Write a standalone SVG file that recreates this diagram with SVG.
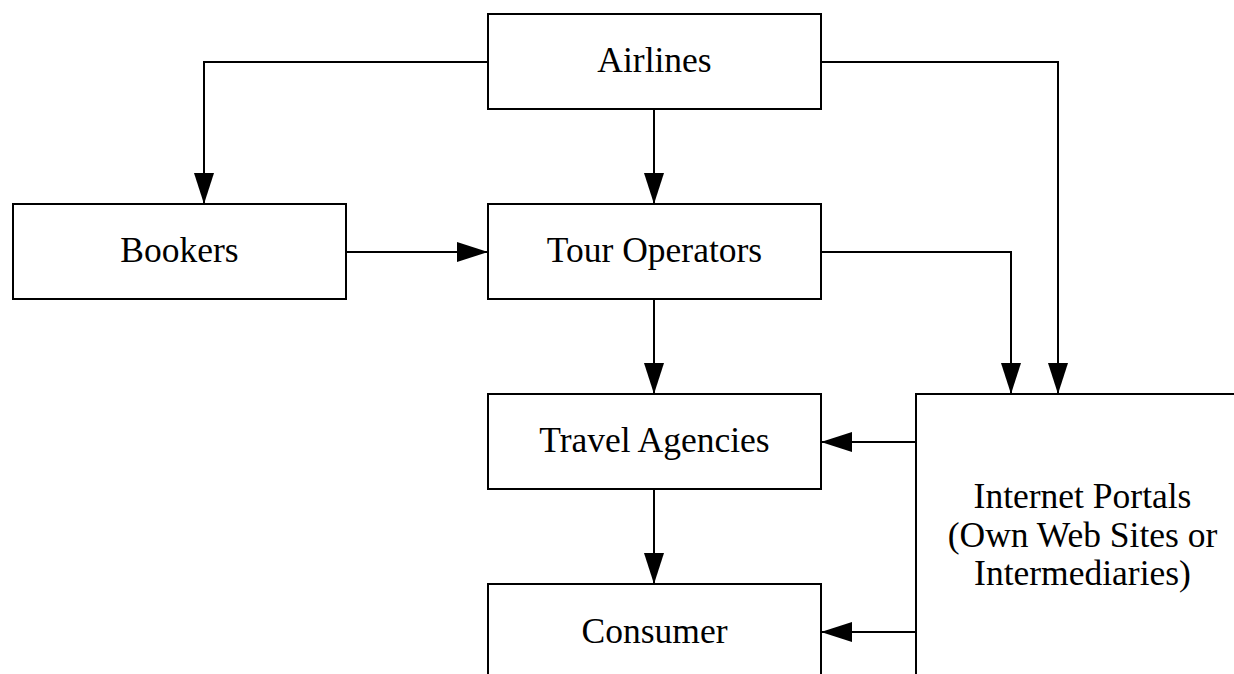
<svg xmlns="http://www.w3.org/2000/svg" width="1234" height="674" viewBox="0 0 1234 674">
  <style>
    .box { fill: #ffffff; stroke: #000000; stroke-width: 2; }
    .lbl { font-family: "Liberation Serif", "Times New Roman", serif; font-size: 35.5px; fill: #000000; text-anchor: middle; }
    .edge { fill: none; stroke: #000000; stroke-width: 2; marker-end: url(#arrow); }
  </style>
  <defs>
    <marker id="arrow" markerUnits="userSpaceOnUse" markerWidth="31" markerHeight="20" refX="31" refY="10" orient="auto">
      <path d="M0,0 L31,10 L0,20 Z" fill="#000000"/>
    </marker>
  </defs>
  <rect width="1234" height="674" fill="#ffffff"/>

  <g id="airlines">
    <rect class="box" x="488" y="14" width="333" height="95"/>
    <text class="lbl" x="654.5" y="72">Airlines</text>
  </g>
  <g id="bookers">
    <rect class="box" x="13" y="204" width="333" height="95"/>
    <text class="lbl" x="179.5" y="262">Bookers</text>
  </g>
  <g id="tour-operators">
    <rect class="box" x="488" y="204" width="333" height="95"/>
    <text class="lbl" x="654.5" y="262">Tour Operators</text>
  </g>
  <g id="travel-agencies">
    <rect class="box" x="488" y="394" width="333" height="95"/>
    <text class="lbl" x="654.5" y="452">Travel Agencies</text>
  </g>
  <g id="consumer">
    <rect class="box" x="488" y="584" width="333" height="95"/>
    <text class="lbl" x="654.5" y="643">Consumer</text>
  </g>
  <g id="internet-portals">
    <rect class="box" x="916" y="394" width="333" height="285"/>
    <text class="lbl" x="1082.5" y="508">Internet Portals</text>
    <text class="lbl" x="1082.5" y="547">(Own Web Sites or</text>
    <text class="lbl" x="1082.5" y="585">Intermediaries)</text>
  </g>

  <g id="connectors">
    <path class="edge" d="M488,62 H204 V204"/>
    <path class="edge" d="M654,109 V204"/>
    <path class="edge" d="M821,62 H1058 V394"/>
    <path class="edge" d="M346,252 H488"/>
    <path class="edge" d="M821,252 H1011 V394"/>
    <path class="edge" d="M654,299 V394"/>
    <path class="edge" d="M654,489 V584"/>
    <path class="edge" d="M916,442 H821"/>
    <path class="edge" d="M916,632 H821"/>
  </g>
</svg>
